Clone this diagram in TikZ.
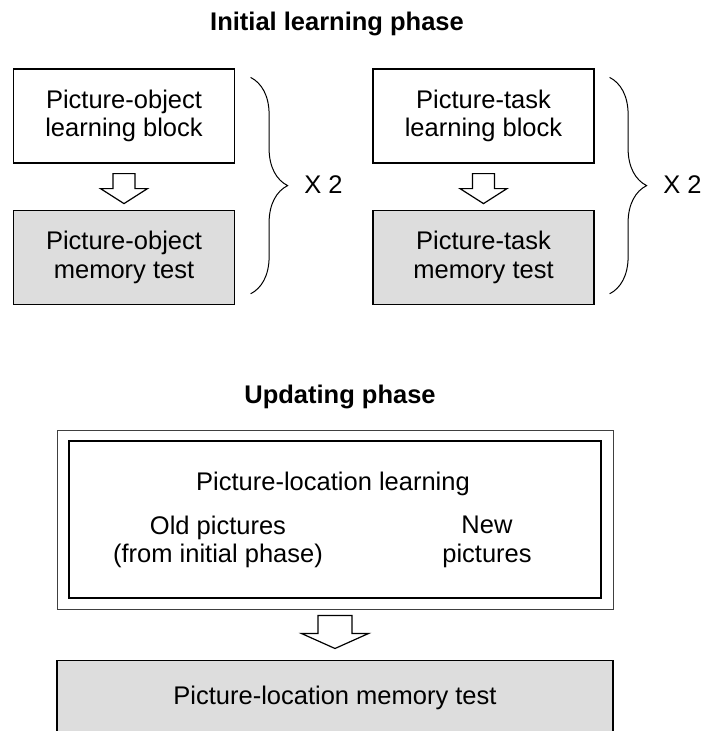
\documentclass[tikz,border=0pt]{standalone}
\usepackage{fontspec}
\setmainfont{Liberation Sans}
\usetikzlibrary{positioning,calc,decorations.pathreplacing}
\definecolor{testgray}{RGB}{221,221,221}

\tikzset{
  txt/.style={font=\fontsize{25.5}{28.5}\selectfont, align=center, inner sep=0pt},
  ttl/.style={txt, font=\fontsize{25.5}{28.5}\selectfont\bfseries},
  block/.style={txt, draw, line width=1.2pt, minimum width=221pt, minimum height=94pt},
  testblock/.style={block, fill=testgray},
  hollow/.style={draw, line width=1.2pt, fill=white},
  repbrace/.style={decorate, decoration={brace, amplitude=37pt, aspect=0.5}, line width=1pt},
}

\begin{document}
\begin{tikzpicture}[x=1pt, y=-1pt]
                \useasboundingbox (0,0) rectangle (704,731);

                % Initial learning phase
                \node[ttl, anchor=base] (title1) at (337,30) {Initial learning phase};
                \node[block] (lb1) at (124,116) {Picture-object\\learning block};
                \node[testblock, below=46pt of lb1] (mt1) {Picture-object\\memory test};
                \node[block] (lb2) at (483.5,116) {Picture-task\\learning block};
                \node[testblock, below=46pt of lb2] (mt2) {Picture-task\\memory test};

                % block arrows
                \draw[hollow] ($(lb1.south)+(-11,10)$) -- ++(22,0) -- ++(0,15) -- ++(12.5,0)
                    -- ($(mt1.north)+(0,-6)$) -- ++(-23.5,-15) -- ++(12.5,0) -- cycle;
                \draw[hollow] ($(lb2.south)+(-11,10)$) -- ++(22,0) -- ++(0,15) -- ++(12.5,0)
                    -- ($(mt2.north)+(0,-6)$) -- ++(-23.5,-15) -- ++(12.5,0) -- cycle;

                % braces
                \draw[repbrace] ($(lb1.north east)+(15.5,9)$) -- ($(mt1.south east)+(15.5,-11)$);
                \draw[repbrace] ($(lb2.north east)+(15,9)$) -- ($(mt2.south east)+(15,-11)$);
                \node[txt] (rep1) at (323.5,185) {X 2};
                \node[txt] (rep2) at (682.5,185) {X 2};

                % Updating phase
                \node[ttl, anchor=base] (title2) at (340,403) {Updating phase};
                \node[draw, line width=1pt, draw=black!75, minimum width=556pt, minimum height=179pt, inner sep=0pt] (upd) at (335,519.5) {};
                \node[draw, line width=1.5pt, minimum width=532pt, minimum height=157pt, inner sep=0pt] (updin) at (upd.center) {};
                \node[txt, anchor=base] (loc) at (333,490) {Picture-location learning};
                \node[txt] (old) at (218,542) {Old pictures\\(from initial phase)};
                \node[txt] (new) at (487,542) {New\\pictures};

                \node[txt, draw, line width=1.2pt, fill=testgray, minimum width=556pt, minimum height=76pt, below=50pt of upd] (plmt) {Picture-location memory test};

                \draw[hollow] ($(upd.south)+(-17,6)$) -- ++(34,0) -- ++(0,18) -- ++(16.5,0)
                    -- ($(plmt.north)+(0,-11)$) -- ++(-33.5,-15) -- ++(16.5,0) -- cycle;
\end{tikzpicture}
\end{document}
